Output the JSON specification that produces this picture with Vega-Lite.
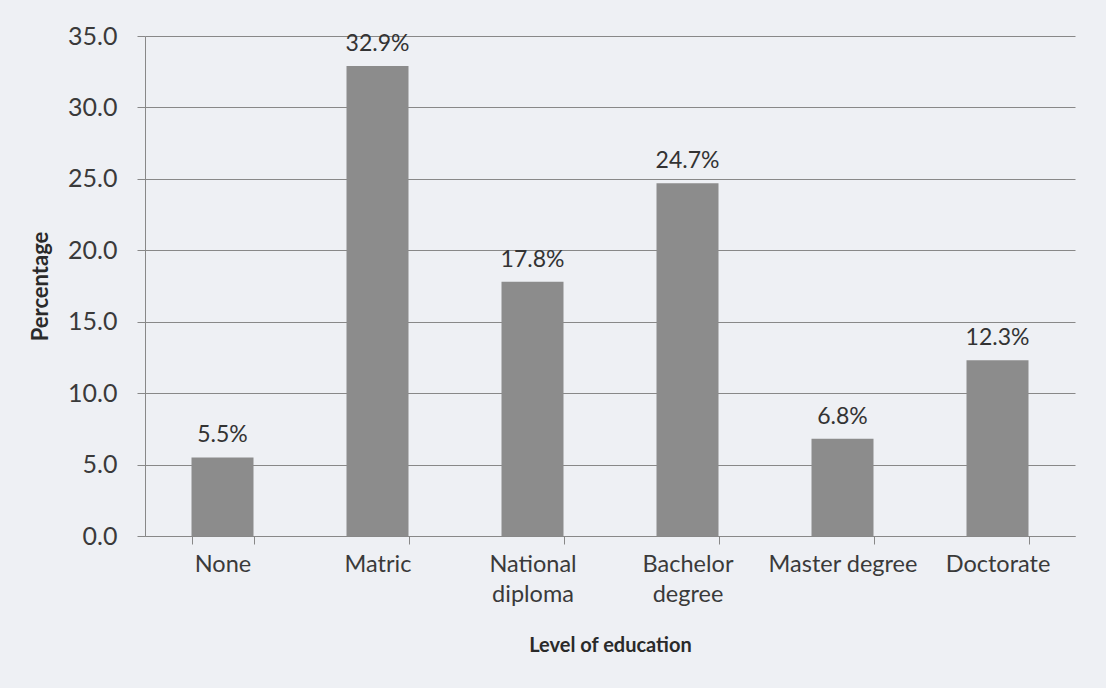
{
  "$schema": "https://vega.github.io/schema/vega-lite/v6.json",
  "autosize": "none",
  "width": 930,
  "height": 500,
  "padding": {"left": 145, "top": 36, "right": 31, "bottom": 152},
  "background": "#eef0f4",
  "config": {
    "font": "Lato",
    "view": {"stroke": null},
    "axis": {"labelFont": "Lato", "titleFont": "Lato", "labelColor": "#3a3a3a", "titleColor": "#2a2a2a"}
  },
  "data": {
    "values": [
      {"level": "None", "pct": 5.5},
      {"level": "Matric", "pct": 32.9},
      {"level": "National diploma", "pct": 17.8},
      {"level": "Bachelor degree", "pct": 24.7},
      {"level": "Master degree", "pct": 6.8},
      {"level": "Doctorate", "pct": 12.3}
    ]
  },
  "transform": [{"calculate": "format(datum.pct, '.1f') + '%'", "as": "label"}],
  "encoding": {
    "x": {
      "field": "level",
      "type": "nominal",
      "sort": null,
      "scale": {"paddingInner": 0.6, "paddingOuter": 0.3},
      "axis": {
        "title": "Level of education",
        "titleFontSize": 20,
        "titleFontWeight": "bold",
        "titlePadding": 30,
        "labelFontSize": 23.5,
        "labelAngle": 0,
        "labelPadding": 8,
        "labelLineHeight": 30,
        "labelExpr": "datum.label == 'National diploma' ? ['National', 'diploma'] : datum.label == 'Bachelor degree' ? ['Bachelor', 'degree'] : datum.label",
        "tickBand": "extent",
        "tickSize": 8,
        "tickColor": "#888888",
        "domainColor": "#888888",
        "grid": false
      }
    },
    "y": {
      "field": "pct",
      "type": "quantitative",
      "scale": {"domain": [0, 35], "nice": false},
      "axis": {
        "title": "Percentage",
        "titleFontSize": 22,
        "titleFontWeight": "bold",
        "titlePadding": 15,
        "labelFontSize": 25,
        "labelPadding": 20,
        "format": ".1f",
        "values": [0, 5, 10, 15, 20, 25, 30, 35],
        "tickSize": 8,
        "tickColor": "#888888",
        "domainColor": "#888888",
        "gridColor": "#888888",
        "gridWidth": 1.2
      }
    }
  },
  "layer": [
    {"mark": {"type": "bar", "color": "#8c8c8c"}},
    {
      "mark": {"type": "text", "baseline": "bottom", "dy": -10, "fontSize": 23, "color": "#333333"},
      "encoding": {"text": {"field": "label"}}
    }
  ]
}
